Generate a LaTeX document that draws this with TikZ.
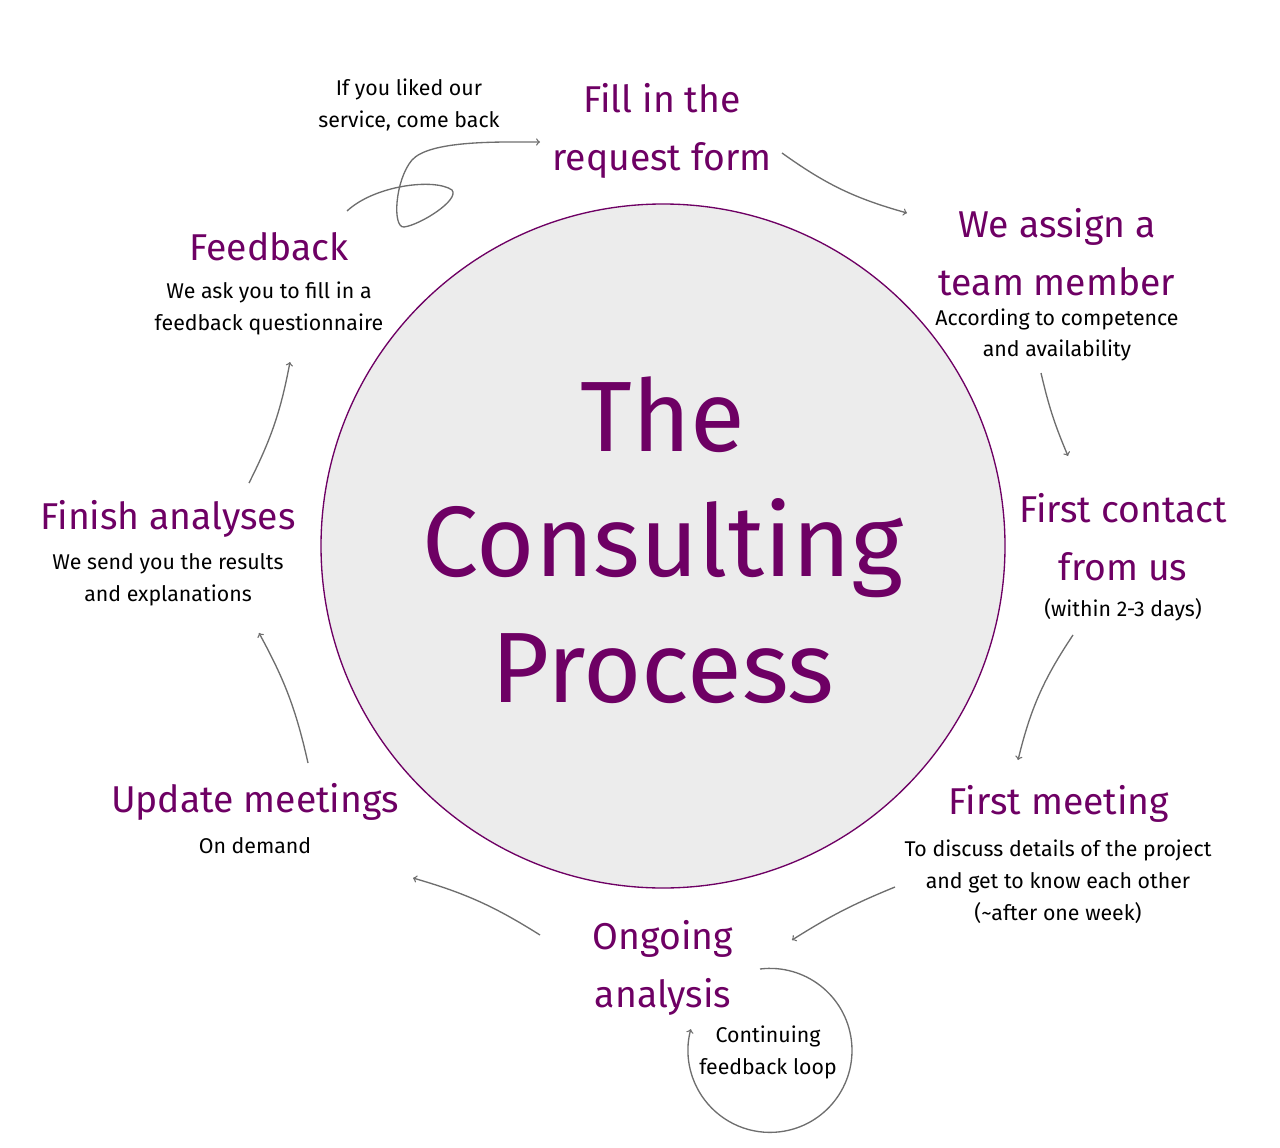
\documentclass[tikz,border=0pt]{standalone}
\usepackage{fontspec}
\setmainfont{Fira Sans}
\usepackage{xcolor}
\definecolor{plum}{RGB}{110,0,100}
\definecolor{arrowgray}{RGB}{110,110,110}
\tikzset{
  head/.style={color=plum,font=\fontsize{28}{43}\selectfont,align=center,inner sep=0pt},
  note/.style={color=black,font=\fontsize{16}{24}\selectfont,align=center,inner sep=0pt},
  flow/.style={draw=arrowgray,line width=1pt,-{>[scale=1.3]}},
}
\begin{document}
\begin{tikzpicture}[x=0.75pt,y=0.75pt,yscale=-1,xscale=1]
		\useasboundingbox (0,0) rectangle (1280,1148);
		
		%Shape: Circle [id:hub]
		\draw [draw=plum,fill={rgb,255:red,236;green,236;blue,236},line width=1pt] (663,546) circle [radius=342];
		
		% Text Node
		\node (title) at (663,540) [color=plum,font=\fontsize{75}{94}\selectfont,align=center] {The\\Consulting\\Process};
		% Text Node
		\node (form) at (662,131) [head] {Fill in the\\request form};
		% Text Node
		\node (assign) at (1057,252) [head] {We assign a\\team member};
		\node (assignN) at (1057,335) [note,font=\fontsize{16}{23}\selectfont] {According to competence\\and availability};
		% Text Node
		\node (contact) at (1123,537) [head] {First contact\\from us};
		\node (contactN) at (1123,610) [note] {(within 2-3 days)};
		% Text Node
		\node (meet) at (1059,804) [head] {First meeting};
		\node (meetN) at (1058,882) [note] {To discuss details of the project\\and get to know each other\\(\textasciitilde after one week)};
		% Text Node
		\node (ongoing) at (663,968) [head] {Ongoing\\analysis};
		\node (loopN) at (768,1052) [note] {Continuing\\feedback loop};
		% Text Node
		\node (update) at (255,802) [head] {Update meetings};
		\node (updateN) at (255,846) [note] {On demand};
		% Text Node
		\node (finish) at (168,519) [head] {Finish analyses};
		\node (finishN) at (168,580) [note] {We send you the results\\and explanations};
		% Text Node
		\node (feedback) at (269,247) [head] {Feedback};
		\node (feedbackN) at (269,308) [note] {We ask you to fill in a\\feedback questionnaire};
		% Text Node
		\node (again) at (409,105) [note] {If you liked our\\service, come back};
		
		%Arrows
		\coordinate (a1) at (782,153); \coordinate (b1) at (907,213);
		\coordinate (a2) at (1041,373); \coordinate (b2) at (1068,456);
		\coordinate (a3) at (1073,635); \coordinate (b3) at (1018,760);
		\coordinate (a4) at (895,887); \coordinate (b4) at (792,940);
		\coordinate (a5) at (540,935); \coordinate (b5) at (413,878);
		\coordinate (a6) at (308,763); \coordinate (b6) at (259,633);
		\coordinate (a7) at (249,483); \coordinate (b7) at (290,362);
		\coordinate (a8) at (347,211); \coordinate (b8) at (540,142);
		\coordinate (a9) at (760,969);
		\draw [flow] (a1) to [bend left=10] (b1);
		\draw [flow] (a2) to [bend left=5] (b2);
		\draw [flow] (a3) to [bend left=10] (b3);
		\draw [flow] (a4) to [bend left=5] (b4);
		\draw [flow] (a5) to [bend left=8] (b5);
		\draw [flow] (a6) to [bend left=8] (b6);
		\draw [flow] (a7) to [bend left=8] (b7);
		\draw [flow] (a8) .. controls (375,185) and (435,178) .. (452,190)
		  .. controls (460,200) and (420,225) .. (404,227)
		  .. controls (392,228) and (395,180) .. (412,160)
		  .. controls (430,140) and (500,142) .. (b8);
		\draw [flow] (a9) arc [start angle=-97,end angle=195,radius=82];
		
		\end{tikzpicture}
\end{document}
